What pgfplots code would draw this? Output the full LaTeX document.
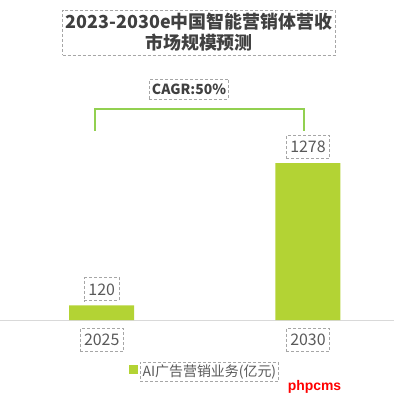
\documentclass[border=0pt]{standalone}
\usepackage{fontspec}
\setmainfont{Noto Sans CJK SC}
\newfontfamily\wmfont{Liberation Sans}
\usepackage{pgfplots}
\pgfplotsset{compat=1.18}
\definecolor{barg}{HTML}{B3D334}
\definecolor{brk}{HTML}{92D050}
\definecolor{boxg}{HTML}{A6A6A6}
\definecolor{titlec}{HTML}{404040}
\definecolor{labc}{HTML}{595959}
\definecolor{axc}{HTML}{D9D9D9}
\tikzset{dbox/.style={draw=boxg, dash pattern=on 3bp off 2bp, line width=0.8bp}}
\begin{document}
\begin{tikzpicture}
\begin{axis}[
  at={(0,0)}, anchor=south west,
  scale only axis, width=394bp, height=320bp,
  xmin=-0.493, xmax=1.417, ymin=0, ymax=2605,
  axis y line=none, axis x line=bottom,
  x axis line style={draw=axc, line width=1bp, -},
  xtick={0,1}, xticklabels={2025,2030}, major tick length=0,
  xticklabel style={dbox, text=labc, font=\fontsize{16}{18}\selectfont, inner xsep=4bp, inner ysep=2.5bp, minimum height=23bp, anchor=north, yshift=-8bp},
  ybar, bar width=65bp,
  nodes near coords={\pgfmathprintnumber[assume math mode=true,1000 sep={}]{\pgfplotspointmeta}},
  nodes near coords style={dbox, text=labc, font=\fontsize{16}{18}\selectfont, inner xsep=4bp, inner ysep=2.5bp, minimum height=23bp, anchor=south, yshift=4bp},
  legend style={at={(0.52,-0.156)}, anchor=center, draw=none, fill=none, font=\fontsize{14}{16}\selectfont, text=labc},
  legend image code/.code={\fill[barg] (0bp,-4.5bp) rectangle (9bp,4.5bp);},
]
\addplot[fill=barg, draw=none] coordinates {(0,120) (1,1278)};
\addlegendentry{\tikz[baseline=(t.base)]\node[dbox, inner sep=2.5bp, text=labc](t){AI广告营销业务(亿元)};}
\end{axis}
\node[dbox, minimum width=270bp, minimum height=45bp, align=center, text=titlec, font=\bfseries\fontsize{18}{21}\selectfont] at (199bp,287.5bp) {2023-2030e中国智能营销体营收\\市场规模预测};
\node[dbox, text=titlec, font=\bfseries\fontsize{14}{16}\selectfont, inner sep=2.5bp, minimum height=20bp] at (189bp,231bp) {CAGR:50\%};
\draw[brk, line width=2bp] (95bp,189bp) -- (95bp,211bp) -- (304bp,211bp) -- (304bp,189bp);
\node[text=red, font=\wmfont\bfseries\fontsize{14}{16}\selectfont] at (314.5bp,-67bp) {phpcms};
\pgfresetboundingbox
\useasboundingbox (0,-84bp) rectangle (394bp,320bp);
\end{tikzpicture}
\end{document}
